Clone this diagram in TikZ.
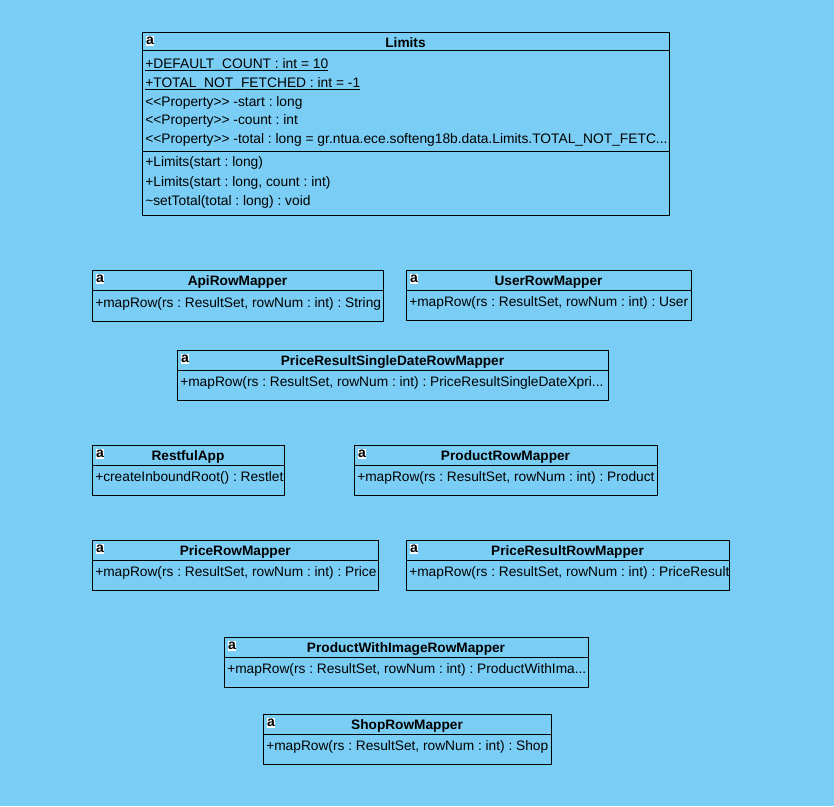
\documentclass[tikz,border=0pt]{standalone}
\usepackage{fontspec}
\setmainfont{Liberation Sans}
\definecolor{bgblue}{HTML}{7ACEF5}
\newcommand{\umlbox}[8]{% name x1 y1 x2 y2 ysep title members
  \node[classbox, minimum width={(#4-#2)*0.75pt}, minimum height={(#5-#3)*0.75pt}] (#1) at ({(#2+#4)/2},{(#3+#5)/2}) {};
  \node[titletext] (#1t) at ({(#2+#4)/2},{(#3+#6)/2+2}) {#7};
  \draw[sepline] (#1.west |- 0,#6) -- (#1.east |- 0,#6);
  \node[iconbox] (#1i) at ({#2+8},{#3+9}) {};
  \node[icontext] (#1a) at (#1i) {a};
  \node[membertext] (#1m) at ({#2+3},{(#6+#5)/2-2}) {#8};
}
\tikzset{
  x=0.75pt, y=-0.75pt,
  classbox/.style={draw=black, line width=0.6pt, fill=bgblue, inner sep=0pt, outer sep=0pt},
  titletext/.style={font=\fontsize{10.25pt}{11pt}\selectfont\bfseries, inner sep=0pt},
  membertext/.style={font=\fontsize{10.3pt}{11pt}\selectfont, anchor=west, inner sep=0pt},
  sepline/.style={draw=black, line width=0.6pt},
  iconbox/.style={fill=white, inner sep=0pt, minimum width=6.5pt, minimum height=7.5pt},
  icontext/.style={font=\fontsize{10.5pt}{10.5pt}\selectfont\bfseries, inner sep=0pt},
  limitline/.style={font=\fontsize{10.35pt}{11pt}\selectfont, anchor=base west, inner sep=0pt},
}
\begin{document}
\frenchspacing
\begin{tikzpicture}
\path[fill=bgblue] (0,0) rectangle (834,806);
\useasboundingbox (0,0) rectangle (834,806);
% Limits
\node[classbox, minimum width={527*0.75pt}, minimum height={183*0.75pt}] (limits) at (405.5,123.5) {};
\node[titletext] (limitst) at (405.5,42.5) {Limits};
\draw[sepline] (limits.west |- 0,50) -- (limits.east |- 0,50);
\draw[sepline] (limits.west |- 0,151) -- (limits.east |- 0,151);
\node[iconbox] (limitsi) at (150,41) {};
\node[icontext] (limitsa) at (limitsi) {a};
\node[limitline] (l1) at (145,68.6) {\underline{\smash{+DEFAULT\_COUNT : int = 10}}};
\node[limitline] (l2) at (145,87.6) {\underline{\smash{+TOTAL\_NOT\_FETCHED : int = -1}}};
\node[limitline] (l3) at (145,106.6) {<{}<Property>{}> -start : long};
\node[limitline] (l4) at (145,124.6) {<{}<Property>{}> -count : int};
\node[limitline] (l5) at (145,143) {<{}<Property>{}> -total : long = gr.ntua.ece.softeng18b.data.Limits.TOTAL\_NOT\_FETC...};
\node[limitline] (l6) at (145,166.6) {+Limits(start : long)};
\node[limitline] (l7) at (145,186) {+Limits(start : long, count : int)};
\node[limitline] (l8) at (145,205) {\textasciitilde setTotal(total : long) : void};
% Others
\umlbox{api}{92}{270}{383}{321}{290}{ApiRowMapper}{+mapRow(rs : ResultSet, rowNum : int) : String}
\umlbox{user}{406}{270}{691}{320}{290}{UserRowMapper}{+mapRow(rs : ResultSet, rowNum : int) : User}
\umlbox{single}{177}{350}{608}{400}{370}{PriceResultSingleDateRowMapper}{+mapRow(rs : ResultSet, rowNum : int) : PriceResultSingleDateXpri...}
\umlbox{rest}{92}{445}{284}{495}{465}{RestfulApp}{+createInboundRoot() : Restlet}
\umlbox{product}{354}{445}{657}{495}{465}{ProductRowMapper}{+mapRow(rs : ResultSet, rowNum : int) : Product}
\umlbox{price}{92}{540}{378.5}{590}{560}{PriceRowMapper}{+mapRow(rs : ResultSet, rowNum : int) : Price}
\umlbox{result}{406}{540}{729}{590}{560}{PriceResultRowMapper}{+mapRow(rs : ResultSet, rowNum : int) : PriceResult}
\umlbox{image}{224}{637}{588}{687}{657}{ProductWithImageRowMapper}{+mapRow(rs : ResultSet, rowNum : int) : ProductWithIma...}
\umlbox{shop}{263}{714}{551}{764}{734}{ShopRowMapper}{+mapRow(rs : ResultSet, rowNum : int) : Shop}
\end{tikzpicture}
\end{document}
